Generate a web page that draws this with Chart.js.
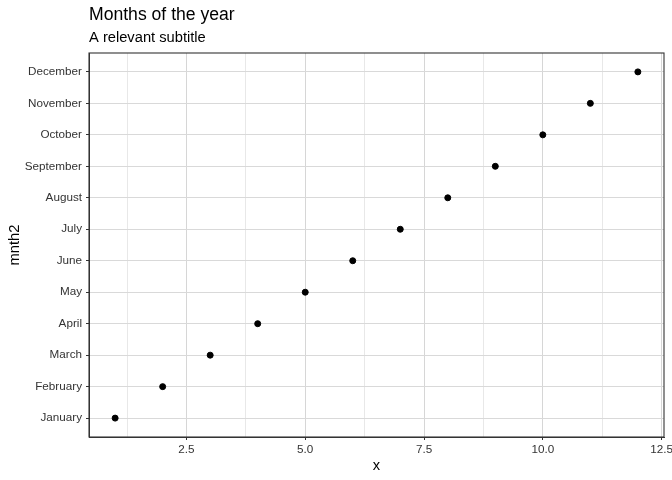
<!DOCTYPE html>
<html>
<head>
<meta charset="utf-8">
<script src="https://cdn.jsdelivr.net/npm/chart.js@4.4.1/dist/chart.umd.min.js"></script>
<style>
  html, body { margin: 0; padding: 0; background: #ffffff; }
  #wrap { width: 672px; height: 480px; }
</style>
</head>
<body>
<div id="wrap"><canvas id="myChart" width="672" height="480"></canvas></div>
<script>
// data
var months = ['January', 'February', 'March', 'April', 'May', 'June',
              'July', 'August', 'September', 'October', 'November', 'December'];
var xValues = [1, 2, 3, 4, 5, 6, 7, 8, 9, 10, 11, 12];
var xTicks = [1.25, 2.5, 3.75, 5, 6.25, 7.5, 8.75, 10, 11.25, 12.5];
var xTickLabels = { 2.5: '2.5', 5: '5.0', 7.5: '7.5', 10: '10.0', 12.5: '12.5' };

var titleText = 'Months of the year';
var subtitleText = 'A relevant subtitle';

var points = [];
for (var i = 0; i < months.length; i++) {
    points.push({ x: xValues[i], y: i + 1 });
}

function isMajor(v) {
    return xTickLabels[v] !== undefined;
}

// ggplot style titles at panel left + full panel border
var panelPlugin = {
    id: 'panel',
    afterDraw: function (chart) {
        var c = chart.ctx;
        var a = chart.chartArea;
        c.save();
        c.strokeStyle = '#333333';
        c.lineWidth = 1.1;
        c.strokeRect(a.left, a.top, a.right - a.left, a.bottom - a.top);
        c.fillStyle = '#000000';
        c.textAlign = 'left';
        c.textBaseline = 'alphabetic';
        c.font = '17.6px "Liberation Sans", Arial, sans-serif';
        c.fillText(titleText, a.left, 20);
        c.font = '14.7px "Liberation Sans", Arial, sans-serif';
        c.fillText(subtitleText, a.left, 42);
        c.restore();
    }
};

const ctx = document.getElementById('myChart');
const myChart = new Chart(ctx, {
    type: 'scatter',
    data: {
        datasets: [{
            label: 'months',
            data: points,
            backgroundColor: '#000000',
            borderColor: '#000000',
            pointRadius: 3,
            pointHoverRadius: 3
        }]
    },
    options: {
        responsive: false,
        animation: false,
        devicePixelRatio: 1,
        layout: {
            padding: { top: 53, right: 8, left: 0, bottom: 0 }
        },
        scales: {
            x: {
                type: 'linear',
                min: 0.45,
                max: 12.55,
                afterBuildTicks: function (scale) {
                    scale.ticks = xTicks.map(function (v) { return { value: v }; });
                },
                afterFit: function (scale) {
                    scale.height = 43;
                    scale.paddingLeft = 0;
                    scale.paddingRight = 0;
                },
                grid: {
                    color: function (c) {
                        return isMajor(c.tick.value) ? '#d6d6d6' : '#e8e8e8';
                    },
                    lineWidth: 1,
                    tickColor: function (c) {
                        return isMajor(c.tick.value) ? '#333333' : 'rgba(0,0,0,0)';
                    },
                    tickLength: 3,
                    drawTicks: true
                },
                border: { display: true, color: '#333333', width: 1 },
                ticks: {
                    autoSkip: false,
                    maxRotation: 0,
                    padding: 3,
                    color: '#333333',
                    font: { family: '"Liberation Sans", Arial, sans-serif', size: 11.7 },
                    callback: function (v) {
                        return isMajor(v) ? xTickLabels[v] : '';
                    }
                },
                title: {
                    display: true,
                    text: 'x',
                    color: '#000000',
                    padding: { top: 0, bottom: 5 },
                    font: { family: '"Liberation Sans", Arial, sans-serif', size: 14.7 }
                }
            },
            y: {
                type: 'linear',
                min: 0.4,
                max: 12.6,
                afterBuildTicks: function (scale) {
                    scale.ticks = xValues.map(function (v) { return { value: v }; });
                },
                afterFit: function (scale) { scale.width = 89; },
                grid: {
                    color: '#d9d9d9',
                    lineWidth: 1,
                    tickColor: '#333333',
                    tickLength: 3,
                    drawTicks: true
                },
                border: { display: true, color: '#333333', width: 1 },
                ticks: {
                    autoSkip: false,
                    padding: 4,
                    color: '#333333',
                    font: { family: '"Liberation Sans", Arial, sans-serif', size: 11.7 },
                    callback: function (v) {
                        return months[v - 1];
                    }
                },
                title: {
                    display: true,
                    text: 'mnth2',
                    color: '#000000',
                    padding: { top: 6, bottom: 0 },
                    font: { family: '"Liberation Sans", Arial, sans-serif', size: 14.7 }
                }
            }
        },
        plugins: {
            legend: { display: false },
            tooltip: { enabled: false },
            title: { display: false }
        }
    },
    plugins: [panelPlugin]
});
</script>
</body>
</html>
